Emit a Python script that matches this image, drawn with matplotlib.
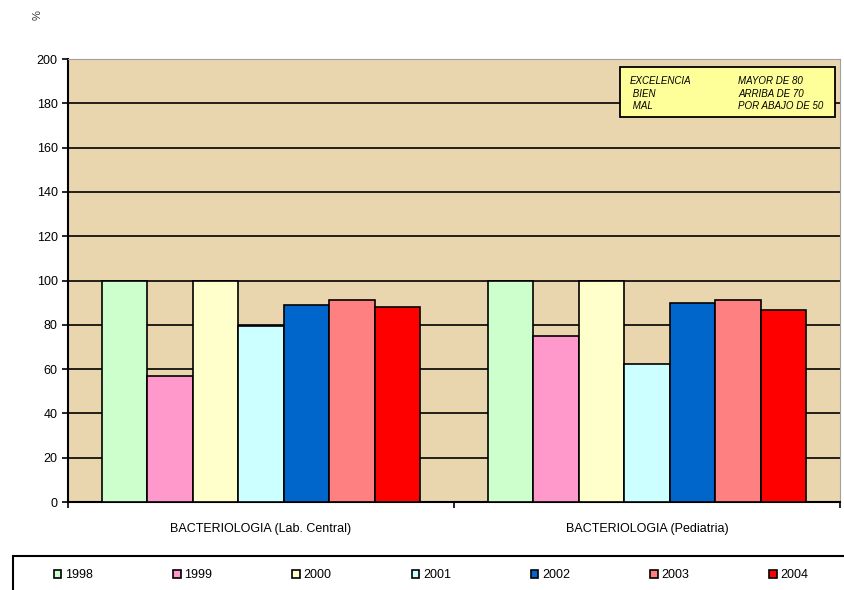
import numpy as np
import matplotlib
matplotlib.use("Agg")
import matplotlib.pyplot as plt

plt.rcParams['font.family'] = ['Liberation Sans', 'DejaVu Sans']

# datos
categorias = ["BACTERIOLOGIA (Lab. Central)", "BACTERIOLOGIA (Pediatria)"]
anios = ["1998", "1999", "2000", "2001", "2002", "2003", "2004"]
valores = {
    "1998": [100, 100],
    "1999": [57, 75],
    "2000": [100, 100],
    "2001": [79.5, 62.5],
    "2002": [89, 90],
    "2003": [91, 91],
    "2004": [88, 86.5],
}
colores = ["#CCFFCC", "#FF99CC", "#FFFFCC", "#CCFFFF", "#0066CC", "#FF8080", "#FF0000"]

fig = plt.figure(figsize=(8.45, 5.9), dpi=100)
ax = fig.add_axes([68 / 845, 0.149, 772 / 845, 0.751])
ax.set_facecolor("#E9D6AF")

x = np.arange(len(categorias))
ancho = 0.118
for i, a in enumerate(anios):
    ax.bar(x + (i - 3) * ancho, valores[a], ancho, color=colores[i],
           edgecolor="black", linewidth=1.2, label=a, zorder=3)

ax.set_ylim(0, 200)
ax.set_xlim(-0.5, 1.5)
ax.set_yticks(range(0, 201, 20))
ax.yaxis.grid(True, color="black", linewidth=1.2, zorder=1)
ax.set_xticks(x)
ax.set_xticklabels(categorias, fontsize=9)
ax.set_xticks([-0.5, 0.5, 1.5], minor=True)
ax.tick_params(axis="x", which="major", length=0, pad=15)
ax.tick_params(axis="x", which="minor", length=4, width=1.2)
ax.tick_params(axis="y", labelsize=9, length=4, width=1.2)
ax.spines["right"].set_color("#A0A0A0")
ax.spines["top"].set_color("#A0A0A0")
ax.spines["left"].set_linewidth(1.5)
ax.spines["bottom"].set_linewidth(1.5)

fig.text(0.045, 0.975, "%", fontsize=8, rotation=90, ha="center", va="center", color="#333333")

# cuadro de criterios
caja = plt.Rectangle((0.715, 0.869), 0.278, 0.113, transform=ax.transAxes,
                     facecolor="#FFFF99", edgecolor="black", linewidth=1.3, zorder=5)
ax.add_patch(caja)
ax.text(0.728, 0.922, "EXCELENCIA\n BIEN\n MAL", transform=ax.transAxes,
        fontsize=7, va="center", ha="left", style="italic", linespacing=1.3, zorder=6)
ax.text(0.868, 0.922, "MAYOR DE 80\nARRIBA DE 70\nPOR ABAJO DE 50", transform=ax.transAxes,
        fontsize=7, va="center", ha="left", style="italic", linespacing=1.3, zorder=6)

# leyenda
marco = plt.Rectangle((13 / 845, -0.01), 1.0, 34 / 590 + 0.01, transform=fig.transFigure,
                      facecolor="white", edgecolor="black", linewidth=1.5)
fig.patches.append(marco)
handles, labels = ax.get_legend_handles_labels()
leg = fig.legend(handles, labels, loc="center left", bbox_to_anchor=(54 / 845, 1 - 575 / 590),
                 ncol=7, fontsize=9, frameon=False,
                 handlelength=0.6, handleheight=0.6, handletextpad=0.3,
                 columnspacing=6.4, borderpad=0, borderaxespad=0)

fig.savefig("out.png", dpi=100)
